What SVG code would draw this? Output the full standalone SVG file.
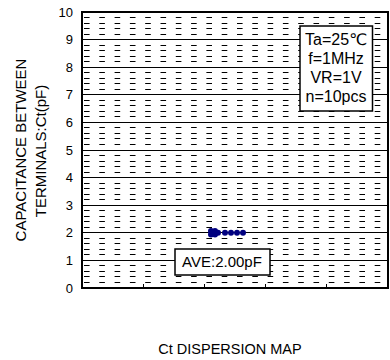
<svg xmlns="http://www.w3.org/2000/svg" width="390" height="360" viewBox="0 0 390 360">
<style>
text{font-family:"Liberation Sans",Arial,"DejaVu Sans",sans-serif;fill:#000}
.tick{font-size:13px;text-anchor:end}
.ax{font-size:15px;text-anchor:middle}
.leg{font-size:16px;text-anchor:middle}
.minor{stroke:#000;stroke-width:1;stroke-dasharray:5.6 9.7;fill:none}
.major{stroke:#000;stroke-width:1;fill:none}
.box{fill:#fff;stroke:#000;stroke-width:1.5}
.pt{fill:#000080}
</style>
<rect width="390" height="360" fill="#fff"/>
<g id="plot">
<path class="minor" d="M84 282.5H388M84 276.5H388M84 271.5H388M84 265.5H388M84 254.5H388M84 249.5H388M84 243.5H388M84 238.5H388M84 227.5H388M84 221.5H388M84 216.5H388M84 210.5H388M84 199.5H388M84 194.5H388M84 188.5H388M84 183.5H388M84 172.5H388M84 166.5H388M84 161.5H388M84 155.5H388M84 144.5H388M84 138.5H388M84 133.5H388M84 127.5H388M84 116.5H388M84 111.5H388M84 105.5H388M84 100.5H388M84 89.5H388M84 83.5H388M84 78.5H388M84 72.5H388M84 61.5H388M84 56.5H388M84 50.5H388M84 45.5H388M84 34.5H388M84 28.5H388M84 23.5H388M84 17.5H388"/>
<path class="major" d="M82 260.5H388M82 232.5H388M82 205.5H388M82 177.5H388M82 150.5H388M82 122.5H388M82 94.5H388M82 67.5H388M82 39.5H388"/>
<path class="major" d="M143.5 288V284M204.5 288V284M265.5 288V284M326.5 288V284"/>
<rect x="82" y="12" width="306" height="276" fill="none" stroke="#000" stroke-width="2"/>
</g>
<g id="y-axis">
<text class="tick" x="73" y="16.5">10</text>
<text class="tick" x="73" y="44.1">9</text>
<text class="tick" x="73" y="71.7">8</text>
<text class="tick" x="73" y="99.3">7</text>
<text class="tick" x="73" y="126.9">6</text>
<text class="tick" x="73" y="154.5">5</text>
<text class="tick" x="73" y="182.1">4</text>
<text class="tick" x="73" y="209.7">3</text>
<text class="tick" x="73" y="237.3">2</text>
<text class="tick" x="73" y="264.9">1</text>
<text class="tick" x="73" y="292.5">0</text>
<text class="ax" transform="translate(25.5,150) rotate(-90)">CAPACITANCE BETWEEN</text>
<text class="ax" transform="translate(45.5,151) rotate(-90)">TERMINALS:Ct(pF)</text>
</g>
<g id="data">
<circle class="pt" cx="211" cy="231" r="3"/>
<circle class="pt" cx="211" cy="234.5" r="3"/>
<circle class="pt" cx="213" cy="232.8" r="3"/>
<circle class="pt" cx="215" cy="231" r="3"/>
<circle class="pt" cx="215" cy="234.5" r="3"/>
<circle class="pt" cx="218" cy="232.8" r="3"/>
<circle class="pt" cx="225" cy="232.8" r="3"/>
<circle class="pt" cx="231" cy="232.8" r="3"/>
<circle class="pt" cx="237" cy="232.8" r="3"/>
<circle class="pt" cx="243" cy="232.8" r="3"/>
</g>
<g id="conditions">
<rect class="box" x="300" y="26" width="72.5" height="85"/>
<text class="leg" x="336" y="45">Ta=25℃</text>
<text class="leg" x="336" y="64">f=1MHz</text>
<text class="leg" x="336" y="83">VR=1V</text>
<text class="leg" x="336" y="102">n=10pcs</text>
</g>
<g id="average">
<rect class="box" x="175" y="249" width="95" height="26"/>
<text style="font-size:15px;text-anchor:middle" x="222" y="267">AVE:2.00pF</text>
</g>
<text style="font-size:14.5px;text-anchor:middle" x="230" y="354">Ct DISPERSION MAP</text>
</svg>
